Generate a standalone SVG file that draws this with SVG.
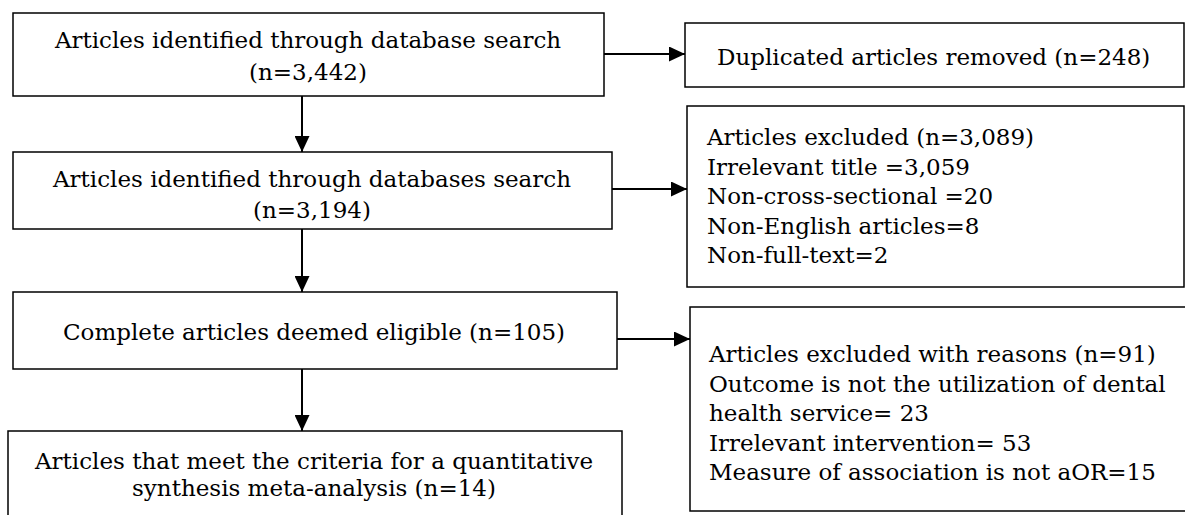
<svg xmlns="http://www.w3.org/2000/svg" width="1185" height="515" viewBox="0 0 1185 515">
<style>
.box{fill:#fff;stroke:#000;stroke-width:1.5}
.t{font-family:"DejaVu Serif","Liberation Serif",serif;font-size:23px;fill:#000}
.c{text-anchor:middle}
.conn{stroke:#000;stroke-width:2;fill:none}
</style>
<defs>
<marker id="ah" markerUnits="userSpaceOnUse" markerWidth="16" markerHeight="15" refX="16" refY="7.5" orient="auto">
<path d="M0,0 L16,7.5 L0,15 Z" fill="#000"/>
</marker>
</defs>
<rect width="1185" height="515" fill="#fff"/>
<g id="n1">
<rect class="box" x="13" y="13" width="591" height="83"/>
<text class="t c" x="308" y="48">Articles identified through database search</text>
<text class="t c" x="308" y="80">(n=3,442)</text>
</g>
<g id="n2">
<rect class="box" x="13" y="152" width="599" height="77"/>
<text class="t c" x="312" y="187">Articles identified through databases search</text>
<text class="t c" x="312" y="218">(n=3,194)</text>
</g>
<g id="n3">
<rect class="box" x="13" y="292" width="604" height="77"/>
<text class="t c" x="314" y="340">Complete articles deemed eligible (n=105)</text>
</g>
<g id="n4">
<rect class="box" x="8" y="431" width="614" height="100"/>
<text class="t c" x="314" y="469">Articles that meet the criteria for a quantitative</text>
<text class="t c" x="314" y="496">synthesis meta-analysis (n=14)</text>
</g>
<g id="r1">
<rect class="box" x="685" y="23" width="499" height="64"/>
<text class="t" x="717" y="65">Duplicated articles removed (n=248)</text>
</g>
<g id="r2">
<rect class="box" x="687" y="106" width="497" height="181"/>
<text class="t" x="707" y="145">Articles excluded (n=3,089)</text>
<text class="t" x="707" y="174.5">Irrelevant title =3,059</text>
<text class="t" x="707" y="204">Non-cross-sectional =20</text>
<text class="t" x="707" y="233.5">Non-English articles=8</text>
<text class="t" x="707" y="263">Non-full-text=2</text>
</g>
<g id="r3">
<rect class="box" x="690" y="307" width="510" height="204"/>
<text class="t" x="709" y="362">Articles excluded with reasons (n=91)</text>
<text class="t" x="709" y="391.5">Outcome is not the utilization of dental</text>
<text class="t" x="709" y="421">health service= 23</text>
<text class="t" x="709" y="450.5">Irrelevant intervention= 53</text>
<text class="t" x="709" y="480">Measure of association is not aOR=15</text>
</g>
<g id="connectors">
<line class="conn" x1="604" y1="54" x2="685" y2="54" marker-end="url(#ah)"/>
<line class="conn" x1="612" y1="189" x2="687" y2="189" marker-end="url(#ah)"/>
<line class="conn" x1="617" y1="339" x2="690" y2="339" marker-end="url(#ah)"/>
<line class="conn" x1="302" y1="96" x2="302" y2="152" marker-end="url(#ah)"/>
<line class="conn" x1="302" y1="229" x2="302" y2="292" marker-end="url(#ah)"/>
<line class="conn" x1="302" y1="369" x2="302" y2="431" marker-end="url(#ah)"/>
</g>
</svg>
